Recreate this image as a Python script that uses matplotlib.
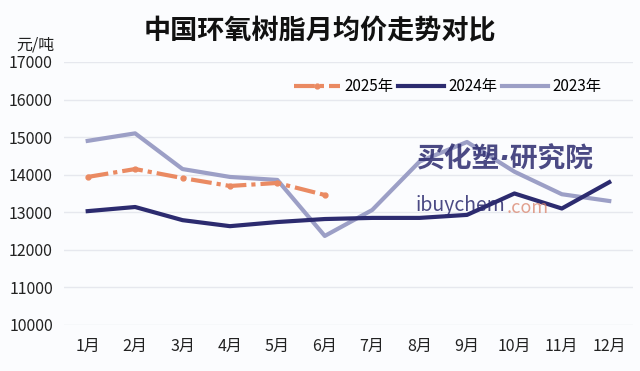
import matplotlib.pyplot as plt

plt.rcParams['font.family'] = ['Noto Sans CJK SC', 'DejaVu Sans']

months = ['1月', '2月', '3月', '4月', '5月', '6月', '7月', '8月', '9月', '10月', '11月', '12月']
price_2025 = [13940, 14150, 13910, 13700, 13780, 13460]
price_2024 = [13030, 13140, 12790, 12630, 12740, 12820, 12850, 12850, 12930, 13500, 13100, 13800]
price_2023 = [14900, 15100, 14150, 13940, 13860, 12370, 13060, 14350, 14870, 14080, 13480, 13300]
y_ticks = [10000, 11000, 12000, 13000, 14000, 15000, 16000, 17000]

bg = '#fbfcfe'
fig = plt.figure(figsize=(6.4, 3.71), dpi=100, facecolor=bg)
ax = fig.add_axes([0.1, 0.124, 0.889, 0.709], facecolor=bg)

x = list(range(len(months)))
ax.plot(x[:len(price_2025)], price_2025, color='#ea8a62', lw=3, ls=(0, (5, 1.2, 1, 1.2)),
        marker='o', ms=3.5, label='2025年', zorder=4)
ax.plot(x, price_2024, color='#2c2b6f', lw=3, label='2024年', zorder=3)
ax.plot(x, price_2023, color='#9c9fc6', lw=3, label='2023年', zorder=2)

ax.set_xlim(-0.5, 11.5)
ax.set_ylim(10000, 17000)
ax.set_yticks(y_ticks)
ax.set_yticklabels([str(v) for v in y_ticks])
ax.set_xticks(x)
ax.set_xticklabels(months)
ax.tick_params(axis='both', length=0, labelsize=11.5, colors='#222222')
ax.tick_params(axis='x', pad=9)
ax.tick_params(axis='y', pad=8)
ax.grid(axis='y', color='#e6e8ee', lw=1)
ax.set_axisbelow(True)
for s in ax.spines.values():
    s.set_visible(False)

ax.legend(loc='upper center', bbox_to_anchor=(0.675, 0.99), ncol=3, frameon=False,
          fontsize=11, handlelength=3, columnspacing=0.3, handletextpad=0.3)

fig.text(0.5, 0.915, '中国环氧树脂月均价走势对比', ha='center', va='center',
         fontsize=19.5, fontweight='bold', color='#111111')
fig.text(0.025, 0.88, '元/吨', ha='left', va='center', fontsize=11.5, color='#222222')

# watermark
fig.text(0.79, 0.57, '买化塑·研究院', ha='center', va='center', fontsize=20,
         fontweight='bold', style='italic', color='#2c2b6f', alpha=0.85,
         family=['DejaVu Sans', 'Noto Sans CJK SC'])
fig.text(0.72, 0.445, 'ibuychem', ha='center', va='center', fontsize=14,
         color='#2c2b6f', alpha=0.85)
fig.text(0.825, 0.44, '.com', ha='center', va='center', fontsize=13,
         color='#d9826a', alpha=0.75)

fig.savefig('out.png', dpi=100, facecolor=bg)
